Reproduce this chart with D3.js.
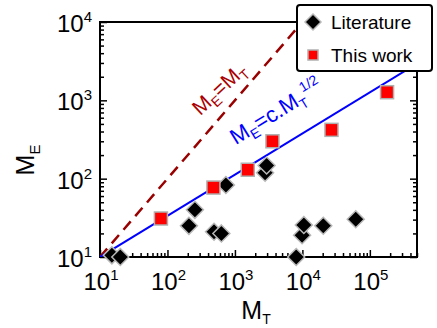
<!DOCTYPE html>
<html>
<head>
<meta charset="utf-8">
<script src="https://cdn.jsdelivr.net/npm/d3@7.9.0/dist/d3.min.js"></script>
<style>
  body { margin: 0; background: #fff; }
  svg { display: block; font-family: Arial, "Liberation Sans", sans-serif; }
</style>
</head>
<body>
<svg id="chart" width="437" height="328"></svg>
<script>
// literature values (M_T, M_E), in drawing order
const litMT = [15, 20, 208, 255, 490, 630, 735, 2800, 2950, 8100, 9900, 10500, 20400, 61800];
const litME = [10.5, 10, 25, 40, 21, 20, 83, 119, 147, 10, 19, 25.6, 25.1, 30.3];

// this work
const workMT = [80, 480, 1550, 3600, 27000, 180000];
const workME = [31, 77, 130, 300, 420, 1270];

// guide lines: M_E = M_T and M_E = c.M_T^(1/2)
const equalLine = [[10, 10], [1e4, 1e4]];
const fitLine = [[10, 10], [5e5, 2950]];

const xDecades = [10, 100, 1000, 1e4, 1e5];
const yDecades = [10, 100, 1000, 1e4];

const svg = d3.select('#chart');
const plotL = 100, plotR = 417, plotT = 22, plotB = 257;

const x = d3.scaleLog().domain([10, 5e5]).range([plotL, plotR]);
const y = d3.scaleLog().domain([10, 1e4]).range([plotB, plotT]);

// clip for lines
svg.append('clipPath').attr('id', 'plotclip')
    .append('rect')
    .attr('x', plotL).attr('y', plotT)
    .attr('width', plotR - plotL).attr('height', plotB - plotT);

const minorX = x.ticks().filter(v => !xDecades.includes(v));
const minorY = y.ticks().filter(v => !yDecades.includes(v));

function tickAxis(axis, g) {
    g.call(axis);
    g.select('.domain').remove();
    g.selectAll('line').attr('stroke', '#000').attr('stroke-width', 1.5);
    g.selectAll('text').remove();
}

// bottom (ticks inward = up)
tickAxis(d3.axisTop(x).tickValues(xDecades).tickSize(7),
    svg.append('g').attr('transform', `translate(0,${plotB})`));
tickAxis(d3.axisTop(x).tickValues(minorX).tickSize(4),
    svg.append('g').attr('transform', `translate(0,${plotB})`));
// left (ticks inward = right)
tickAxis(d3.axisRight(y).tickValues(yDecades).tickSize(7),
    svg.append('g').attr('transform', `translate(${plotL},0)`));
tickAxis(d3.axisRight(y).tickValues(minorY).tickSize(4),
    svg.append('g').attr('transform', `translate(${plotL},0)`));
// right (ticks inward = left)
tickAxis(d3.axisLeft(y).tickValues(yDecades).tickSize(7),
    svg.append('g').attr('transform', `translate(${plotR},0)`));
tickAxis(d3.axisLeft(y).tickValues(minorY).tickSize(4),
    svg.append('g').attr('transform', `translate(${plotR},0)`));

// frame
svg.append('rect')
    .attr('x', plotL).attr('y', plotT)
    .attr('width', plotR - plotL).attr('height', plotB - plotT)
    .attr('fill', 'none').attr('stroke', '#000').attr('stroke-width', 2);

// tick labels as 10^n
function powLabel(sel, v) {
    const n = Math.round(Math.log10(v));
    sel.append('tspan').text('10');
    sel.append('tspan').attr('font-size', 15).attr('dy', -10).text(n);
}

xDecades.forEach(v => {
    const t = svg.append('text')
        .attr('x', x(v) + 1).attr('y', 290)
        .attr('text-anchor', 'middle')
        .attr('font-size', 24).attr('fill', '#000');
    powLabel(t, v);
});

yDecades.forEach(v => {
    const t = svg.append('text')
        .attr('x', 92).attr('y', y(v) + 10)
        .attr('text-anchor', 'end')
        .attr('font-size', 24).attr('fill', '#000');
    powLabel(t, v);
});

// axis titles
const xt = svg.append('text')
    .attr('x', 256).attr('y', 319)
    .attr('text-anchor', 'middle')
    .attr('font-size', 25);
xt.append('tspan').text('M');
xt.append('tspan').attr('font-size', 14).attr('dy', 5).text('T');

const yt = svg.append('text')
    .attr('transform', 'translate(34,160) rotate(-90)')
    .attr('text-anchor', 'middle')
    .attr('font-size', 25);
yt.append('tspan').text('M');
yt.append('tspan').attr('font-size', 15).attr('dy', 6).text('E');

// guide lines
const line = d3.line().x(d => x(d[0])).y(d => y(d[1]));

svg.append('path')
    .attr('d', line(equalLine))
    .attr('clip-path', 'url(#plotclip)')
    .attr('fill', 'none')
    .attr('stroke', '#990000')
    .attr('stroke-width', 2.5)
    .attr('stroke-dasharray', '11,7');

svg.append('path')
    .attr('d', line(fitLine))
    .attr('clip-path', 'url(#plotclip)')
    .attr('fill', 'none')
    .attr('stroke', '#0000ff')
    .attr('stroke-width', 2);

// line annotations
const ann1 = svg.append('text')
    .attr('transform', 'translate(224,94) rotate(-43)')
    .attr('text-anchor', 'middle')
    .attr('font-size', 21).attr('fill', '#aa0000');
ann1.append('tspan').text('M');
ann1.append('tspan').attr('font-size', 14).attr('dy', 5).text('E');
ann1.append('tspan').attr('dy', -5).text('=M');
ann1.append('tspan').attr('font-size', 14).attr('dy', 5).text('T');

const ann2 = svg.append('text')
    .attr('transform', 'translate(280,118) rotate(-31.5)')
    .attr('text-anchor', 'middle')
    .attr('font-size', 22).attr('fill', '#0000ff');
ann2.append('tspan').text('M');
ann2.append('tspan').attr('font-size', 14).attr('dy', 5).text('E');
ann2.append('tspan').attr('dy', -5).text('=c.M');
ann2.append('tspan').attr('font-size', 14).attr('dy', 5).text('T');
ann2.append('tspan').attr('font-size', 14).attr('dy', -15).text('1/2');

// markers
const diamond = s => `M0,${-s}L${s},0L0,${s}L${-s},0Z`;

svg.append('g').selectAll('path')
    .data(litMT.map((d, i) => [d, litME[i]]))
    .join('path')
    .attr('d', diamond(8.5))
    .attr('transform', d => `translate(${x(d[0])},${y(d[1])})`)
    .attr('fill', '#000')
    .attr('stroke', '#b8b8b8')
    .attr('stroke-width', 1.5);

svg.append('g').selectAll('rect')
    .data(workMT.map((d, i) => [d, workME[i]]))
    .join('rect')
    .attr('x', d => x(d[0]) - 6.5)
    .attr('y', d => y(d[1]) - 6.5)
    .attr('width', 13).attr('height', 13)
    .attr('fill', '#ff0000')
    .attr('stroke', '#b0b0b0')
    .attr('stroke-width', 1.5);

// legend
const lg = svg.append('g');
lg.append('rect')
    .attr('x', 297).attr('y', 5)
    .attr('width', 135).attr('height', 66)
    .attr('rx', 3)
    .attr('fill', '#fff').attr('stroke', '#000').attr('stroke-width', 2);
lg.append('path')
    .attr('d', diamond(8))
    .attr('transform', 'translate(313,22)')
    .attr('fill', '#000').attr('stroke', '#b8b8b8').attr('stroke-width', 1.5);
lg.append('rect')
    .attr('x', 308).attr('y', 50).attr('width', 10).attr('height', 10)
    .attr('fill', '#ff0000').attr('stroke', '#b0b0b0').attr('stroke-width', 1.5);
lg.append('text').attr('x', 331).attr('y', 29).attr('font-size', 19).text('Literature');
lg.append('text').attr('x', 331).attr('y', 62).attr('font-size', 19).text('This work');
</script>
</body>
</html>
